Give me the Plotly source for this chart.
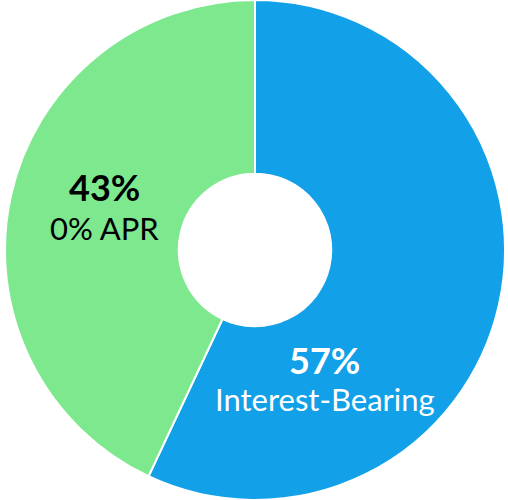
import plotly.graph_objects as go

# Dados
categorias = ["Interest-Bearing", "0% APR"]
valores = [57, 43]
cores = ["#12A0E8", "#7DE88D"]

# posições dos rótulos (papel): x, y do percentual, y do nome, cor
pos_rotulos = [(0.638, 0.28, 0.202, "white"), (0.203, 0.626, 0.543, "black")]

total = sum(valores)

fig = go.Figure()
fig.add_trace(go.Pie(
    labels=categorias,
    values=valores,
    hole=0.305,
    sort=False,
    direction="clockwise",
    rotation=0,
    marker=dict(colors=cores, line=dict(color="white", width=2)),
    textinfo="none",
    hoverinfo="label+percent",
    showlegend=False
))

for cat, val, (x, y_pct, y_lab, cor) in zip(categorias, valores, pos_rotulos):
    fig.add_annotation(
        x=x, y=y_pct, xref="paper", yref="paper",
        xanchor="center", yanchor="middle",
        text=f"<b>{round(val / total * 100)}%</b>",
        showarrow=False,
        font=dict(family="Lato", size=36, color=cor)
    )
    fig.add_annotation(
        x=x, y=y_lab, xref="paper", yref="paper",
        xanchor="center", yanchor="middle",
        text=cat,
        showarrow=False,
        font=dict(family="Lato", size=31, color=cor)
    )

fig.update_layout(
    width=508,
    height=500,
    margin=dict(t=0, b=0, l=2, r=0),
    paper_bgcolor="white",
    plot_bgcolor="white"
)

# remove a margem padrão do body para alinhar com a janela
fig.write_html(
    "out.html",
    config={"displayModeBar": False},
    post_script="document.body.style.margin='0';"
)
